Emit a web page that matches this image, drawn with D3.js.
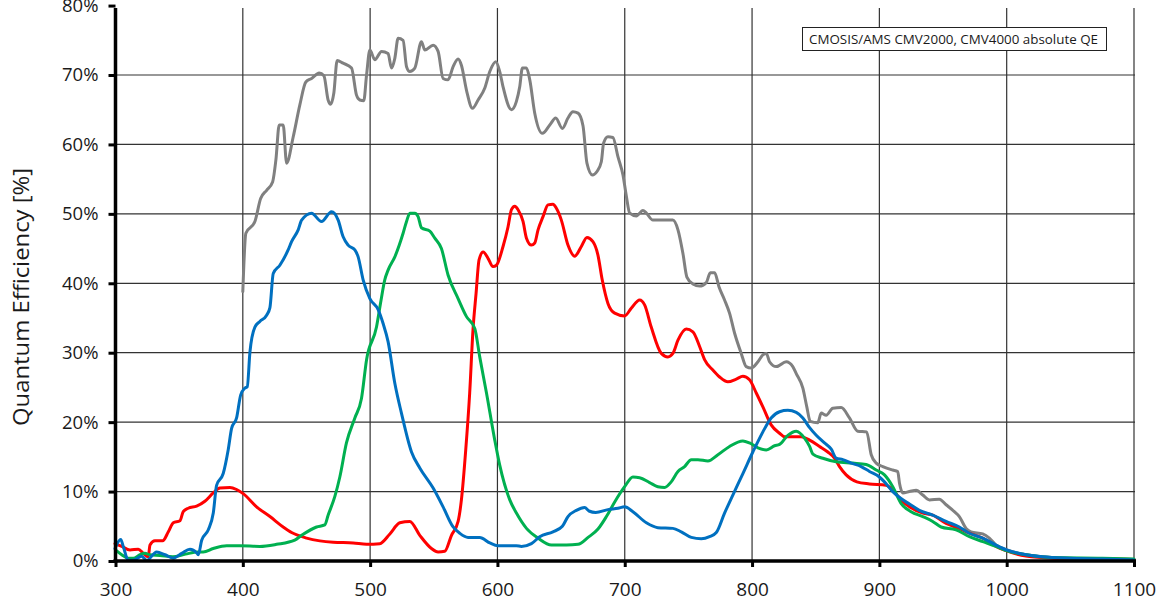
<!DOCTYPE html>
<html><head><meta charset="utf-8">
<script src="https://cdn.jsdelivr.net/npm/d3@7"></script>
<style>
html,body{margin:0;padding:0;background:#fff;}
svg{display:block;}
text{font-family:"Open Sans","DejaVu Sans",sans-serif;fill:#1a1a1a;}
</style></head>
<body>
<svg id="chart" width="1168" height="602"></svg>
<script>
// ---- data (wavelength nm, QE %) ----
const xTicks = [300,400,500,600,700,800,900,1000,1100];
const yTicks = [0,10,20,30,40,50,60,70,80];
const legendText = "CMOSIS/AMS CMV2000, CMV4000 absolute QE";
const yTitle = "Quantum Efficiency [%]";

const monoQE = [[400,38.8],[402.4,47.2],[409.5,48.9],[414,52.2],[418.7,53.4],[423.4,54.6],[426,57.8],[428.6,62.8],[431.7,62.8],[434.4,57.3],[439.6,61.1],[444.8,65.7],[449.5,69.0],[454,69.5],[460,70.3],[463.7,69.9],[467,66.4],[469,65.8],[471.5,67.4],[474.1,72.1],[478.8,71.7],[485.4,71.0],[489.3,67.1],[491.9,66.4],[495,66.3],[497.2,70.0],[499.8,73.6],[503.7,72.2],[509,73.4],[514.1,73.1],[516.8,71.0],[519.4,72.4],[522,75.3],[525.9,75.0],[528.6,71.2],[531.2,70.5],[535.1,71.0],[540.3,74.8],[543,73.6],[549.5,74.3],[553.4,73.4],[557.3,69.5],[561.2,69.3],[565.2,71.2],[569.1,72.3],[571.7,71.4],[575.7,67.8],[580.4,65.2],[584.8,66.4],[590,68.1],[594,70.5],[598.7,71.9],[601.8,70.5],[604.4,68.3],[611,65.0],[614.9,66.2],[617.5,68.3],[619.6,71.0],[622.8,71.0],[625.4,69.3],[629.3,64.5],[635.3,61.6],[641.1,62.8],[645.8,63.8],[651,62.3],[655.4,63.8],[659.3,64.7],[663.3,64.5],[667.2,62.7],[670.3,57.3],[674.6,55.6],[678.2,56.1],[681.6,57.5],[683.4,60.2],[686.8,61.1],[690.7,61.0],[694.7,58.2],[698.6,55.6],[701.3,52.5],[703.9,50.1],[709.1,49.7],[714.3,50.5],[717,50.1],[722.1,49.1],[737.8,49.1],[741.8,47.7],[745.7,44.3],[748.8,40.9],[753.5,39.9],[758.8,39.6],[764,40.1],[767.2,41.5],[770.6,41.5],[774,39.5],[778.4,37.6],[782.3,35.7],[786.3,32.8],[791.5,29.9],[795.4,28.0],[799.4,27.8],[804.6,28.7],[808.5,29.7],[811.2,29.9],[813.7,28.7],[819,28.0],[826.8,28.7],[832,28.0],[834.7,27.0],[839.9,24.9],[843,22.2],[845.7,20.1],[851.6,19.9],[854.3,21.3],[858.2,21.0],[863.4,22.0],[870,22.1],[876.5,20.6],[883,18.7],[890,18.6],[893.6,15.3],[897.5,14.1],[902.7,13.6],[910.5,13.1],[914.4,12.9],[915.8,11.2],[918.4,9.8],[923.6,10.0],[928.9,10.2],[934.1,9.5],[939.3,8.8],[947.1,8.9],[952.4,8.1],[958.9,7.1],[962.8,6.4],[968.1,4.7],[972,4.2],[981.2,3.9],[986.4,3.3],[991.6,2.3],[1000,1.6],[1012,1.0],[1028,0.6],[1049,0.4],[1075,0.3],[1100,0.2]];

const redQE = [[299.6,2.5],[304.9,2.1],[311.4,1.6],[317.9,1.7],[321.8,1.1],[325.7,0.6],[327.1,2.3],[331,2.9],[337,2.9],[341.5,4.2],[345.4,5.5],[350.6,5.8],[353.2,7.1],[357.1,7.6],[363.7,7.9],[370.2,8.6],[376.8,9.8],[382,10.5],[389.9,10.6],[395.1,10.3],[400.3,9.7],[410.8,7.8],[421.3,6.4],[431.7,4.9],[438.3,4.1],[450.1,3.3],[460.5,2.9],[471,2.7],[486.7,2.6],[497.2,2.4],[507.6,2.5],[515.5,3.9],[523.3,5.5],[531.2,5.7],[539,3.7],[548.2,1.8],[553.4,1.3],[558.6,1.4],[563.9,3.7],[569.1,5.7],[571.7,8.8],[575.1,16.0],[578.2,24.2],[580.8,33.3],[583.2,38.5],[585.6,43.4],[588.8,44.5],[592.6,43.6],[596.5,42.4],[599.2,42.6],[604.4,45.3],[608.3,48.1],[611,50.6],[613.6,51.1],[616.2,50.6],[620.1,48.9],[622.8,46.5],[626.7,45.5],[629.3,45.8],[631.9,47.7],[635.8,49.6],[639.7,51.3],[643.6,51.4],[646.3,50.8],[650.2,49.1],[655.4,45.5],[660.7,43.9],[665.9,45.3],[670.3,46.6],[675,46.0],[678.9,44.1],[682.3,40.5],[686.8,37.1],[692.1,35.7],[699.9,35.3],[705.1,36.4],[711.7,37.6],[715.6,36.9],[720.8,33.7],[728.7,29.9],[733.9,29.4],[737.8,29.9],[741.8,31.8],[748.3,33.4],[753.5,33.0],[758.8,30.9],[762.7,29.0],[769.2,27.5],[774.5,26.5],[781,25.8],[787.6,26.2],[792.8,26.6],[798,26.1],[803.3,24.2],[808.5,22.2],[815,19.6],[821.6,18.4],[825.5,17.9],[838.6,17.9],[845.2,17.4],[853,16.5],[859.5,15.7],[864.8,14.8],[868.7,13.6],[873.9,12.4],[882.3,11.4],[892.2,11.1],[905.3,10.9],[910.5,10.2],[917,8.8],[923.6,7.8],[934.1,6.9],[941.9,6.6],[952.4,5.4],[962.8,4.7],[970.7,4.0],[981.2,3.3],[991.6,2.1],[999.5,1.5],[1015,0.7],[1036,0.4],[1075,0.3],[1100,0.2]];

const greenQE = [[300,1.6],[304.9,0.9],[310,0.4],[314,0.4],[319.2,0.9],[323.1,1.1],[327.1,0.9],[335,0.8],[345,0.6],[355,1.0],[365,1.3],[368.9,1.3],[376.8,1.8],[387.3,2.2],[397.7,2.2],[413.4,2.1],[426.5,2.4],[440.8,3.0],[446.2,3.7],[457.9,4.9],[464.4,5.2],[467,6.6],[472.3,9.3],[476.2,12.1],[481.4,17.0],[488,20.6],[493.2,23.4],[497.2,29.0],[505,33.7],[508.5,37.5],[511.5,40.5],[514.1,41.9],[519.4,43.8],[525.9,47.2],[528.6,48.9],[531.2,50.1],[535.1,50.1],[537.7,49.6],[540.3,48.0],[546.9,47.5],[550.8,46.5],[556,45.0],[561.2,41.2],[569.1,37.8],[575.7,35.2],[582.2,33.5],[586.1,29.4],[591.4,24.2],[597.9,17.4],[601.8,13.8],[609.7,8.8],[614.9,6.9],[622.8,4.7],[631.9,3.3],[642.4,2.3],[654.2,2.3],[663.3,2.4],[671.2,3.4],[679,4.6],[685.6,6.4],[692.1,8.5],[699.9,10.7],[706.4,12.1],[711.7,12.0],[719.5,11.3],[726,10.7],[731.3,10.6],[736.5,11.4],[741.8,12.9],[747,13.6],[752.3,14.6],[757.5,14.6],[765.3,14.4],[773.2,15.3],[782.3,16.5],[792.8,17.3],[798,17.0],[804.6,16.3],[811.2,16.0],[817.7,16.6],[821.6,16.8],[828.1,18.1],[834.7,18.7],[841.2,17.7],[845.2,16.5],[847.8,15.4],[855.6,14.8],[866.1,14.3],[879.1,14.1],[889.6,13.9],[897.5,13.1],[904,12.4],[910.5,10.7],[917,8.3],[924.9,7.1],[934.1,6.4],[941.9,5.7],[948.5,4.9],[960.2,4.5],[970.7,3.5],[981.2,2.8],[991.6,2.1],[999.5,1.5],[1015,0.9],[1036,0.5],[1075,0.4],[1100,0.3]];

const blueQE = [[299.6,1.8],[304.1,3.1],[306.1,2.1],[310,0.1],[314,0.1],[320.5,0.7],[324.5,0.1],[332.3,1.3],[338.9,0.9],[345.4,0.4],[352,1.1],[358.5,1.7],[363.7,1.2],[365,0.9],[367.7,3.0],[372.9,4.5],[376.8,6.9],[379.4,10.9],[384.6,12.6],[388.5,16.0],[391.2,19.1],[395.1,20.6],[398.3,23.9],[401.6,24.9],[403.5,25.1],[405.6,30.1],[409.5,33.7],[413.4,34.5],[418.7,35.4],[421.3,36.5],[423.9,41.4],[429.1,42.6],[435.6,44.8],[438.3,46.0],[443.5,47.7],[446.2,49.1],[454,50.1],[461.8,48.9],[469.7,50.3],[474.9,49.1],[478.8,46.7],[482.7,45.5],[488,44.8],[490.6,43.8],[494.5,40.5],[499.8,37.8],[506.3,36.2],[510.2,34.2],[514.1,31.6],[519.4,25.6],[524.6,21.3],[532.5,15.7],[539,13.4],[549.5,10.5],[557.3,7.8],[565.2,4.9],[570.4,4.0],[576.9,3.4],[586.1,3.4],[594,2.6],[600.5,2.2],[614.9,2.2],[618.8,2.1],[626.7,2.5],[633.2,3.5],[643.6,4.2],[651,5.0],[655.4,6.4],[662,7.3],[668.5,7.7],[671.9,7.2],[677.2,7.0],[686.8,7.4],[694.7,7.6],[699.9,7.8],[706.4,7.1],[717,5.5],[726,4.8],[737.8,4.7],[744.4,4.2],[752.3,3.4],[760.1,3.2],[766.6,3.5],[771.9,4.1],[778.4,6.9],[784.9,9.5],[792.8,12.6],[800.6,15.7],[808.5,18.6],[815,20.6],[821.6,21.5],[828.1,21.7],[834.7,21.4],[839.9,20.6],[845.2,19.2],[850.4,18.1],[856.9,17.0],[862.2,16.1],[866.1,14.8],[871.3,14.6],[877.9,14.1],[885.7,13.6],[892.2,12.9],[900,12.1],[904,11.4],[910.5,10.0],[917,9.0],[923.6,8.2],[931.4,7.3],[941.9,6.6],[952.4,5.7],[962.8,4.9],[970.7,4.0],[981.2,3.3],[991.6,2.3],[1000,1.6],[1012.5,1.0],[1028.2,0.6],[1049.2,0.4],[1075.2,0.3],[1100,0.15]];

const series = [
  {name:"mono", data:monoQE, color:"#808080"},
  {name:"red", data:redQE, color:"#ff0000"},
  {name:"green", data:greenQE, color:"#00b050"},
  {name:"blue", data:blueQE, color:"#0070c0"}
];

// ---- layout ----
const svg = d3.select("#chart");
const x = d3.scaleLinear().domain([300,1100]).range([115.5,1134]);
const y = d3.scaleLinear().domain([0,70]).range([561,75]);
const plotTop = 8;

// grid
const grid = svg.append("g");
grid.selectAll("line.h").data(yTicks.filter(d=>d>0 && y(d)>plotTop)).enter().append("line")
  .attr("x1", x(300)).attr("x2", x(1100)+1)
  .attr("y1", d=>y(d)).attr("y2", d=>y(d))
  .attr("stroke","#333").attr("stroke-width",1.2);
grid.selectAll("line.v").data(xTicks.filter(d=>d>300)).enter().append("line")
  .attr("x1", d=>x(d)).attr("x2", d=>x(d))
  .attr("y1", plotTop).attr("y2", y(0))
  .attr("stroke","#333").attr("stroke-width",1.2);

// axes
const xAxis = d3.axisBottom(x).tickValues(xTicks).tickSize(6).tickFormat(d3.format("d"));
const gx = svg.append("g").attr("transform",`translate(0,${y(0)})`).call(xAxis);
gx.select(".domain").remove();
gx.selectAll(".tick line").attr("stroke","#000").attr("stroke-width",3);
gx.selectAll(".tick text").attr("font-size",19).attr("dy",0).attr("y",35)
  .attr("fill","#1a1a1a").attr("font-family","'Open Sans',sans-serif");

const yAxis = d3.axisLeft(y).tickValues(yTicks).tickSize(7).tickFormat(d=>d+"%");
const gy = svg.append("g").attr("transform",`translate(${x(300)},0)`).call(yAxis);
gy.select(".domain").remove();
gy.selectAll(".tick line").attr("stroke","#000").attr("stroke-width",3);
gy.selectAll(".tick text").attr("font-size",18.5).attr("x",-17)
  .attr("fill","#1a1a1a").attr("font-family","'Open Sans',sans-serif");

// curves
const line = d3.line().x(d=>x(d[0])).y(d=>y(d[1])).curve(d3.curveMonotoneX);
svg.append("g").selectAll("path").data(series).enter().append("path")
  .attr("d", d=>line(d.data))
  .attr("fill","none").attr("stroke", d=>d.color)
  .attr("stroke-width",3).attr("stroke-linejoin","round").attr("stroke-linecap","round");

// axis lines (thick)
svg.append("line").attr("x1",x(300)).attr("x2",x(300)).attr("y1",plotTop).attr("y2",y(0)+2)
  .attr("stroke","#000").attr("stroke-width",3.5);
svg.append("line").attr("x1",x(300)-2).attr("x2",x(1100)+2).attr("y1",y(0)).attr("y2",y(0))
  .attr("stroke","#000").attr("stroke-width",3.5);

// y title
svg.append("text").attr("transform",`translate(29,297) rotate(-90)`)
  .attr("text-anchor","middle").attr("font-size",22)
  .attr("textLength",258).attr("lengthAdjust","spacingAndGlyphs").text(yTitle);

// legend box
const lg = svg.append("g");
lg.append("rect").attr("x",802.5).attr("y",27.5).attr("width",304).attr("height",23)
  .attr("fill","#fff").attr("stroke","#222").attr("stroke-width",1);
lg.append("text").attr("x",809).attr("y",44).attr("font-size",12.5)
  .attr("textLength",289).attr("lengthAdjust","spacingAndGlyphs").text(legendText);
</script>
</body></html>
